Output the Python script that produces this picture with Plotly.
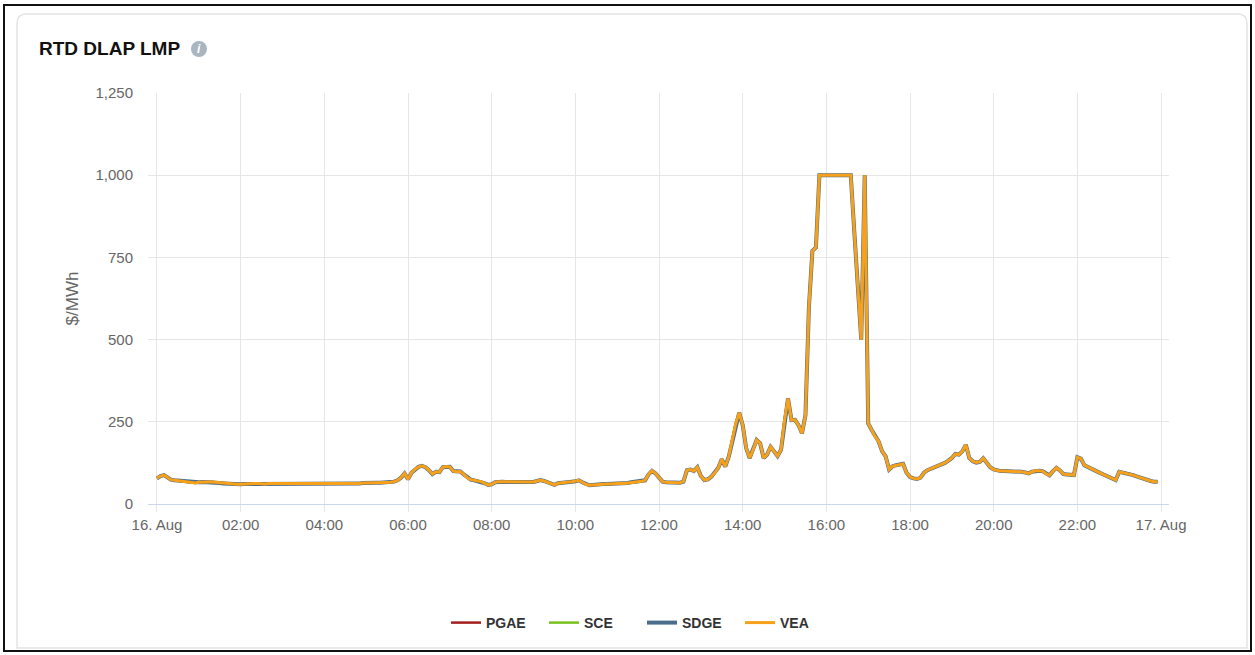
import pandas as pd
import plotly.graph_objects as go

# ---- data (5-minute RTD prices, $/MWh) ----
start_time = "2020-08-16 00:00"
hour_00 = [78, 85, 88, 80, 74, 72, 71, 70, 69, 68, 66, 64]
hour_01 = [66, 67, 67, 67, 67, 66, 64, 62, 61, 61, 61, 60]
hour_02 = [60, 61, 61, 62, 62, 62, 61, 61, 62, 62, 61, 61]
hour_03 = [61, 61, 61, 60, 61, 61, 61, 61, 60, 61, 61, 61]
hour_04 = [61, 61, 61, 61, 61, 62, 62, 61, 61, 62, 62, 64]
hour_05 = [65, 65, 65, 65, 65, 66, 66, 66, 68, 72, 80, 93]
hour_06 = [75, 95, 105, 113, 116, 112, 103, 91, 98, 97, 112, 114]
hour_07 = [113, 100, 98, 99, 90, 80, 74, 72, 70, 68, 63, 58]
hour_08 = [60, 66, 68, 68, 67, 67, 66, 66, 66, 67, 66, 67]
hour_09 = [67, 70, 73, 70, 66, 61, 58, 63, 65, 66, 67, 68]
hour_10 = [69, 72, 66, 60, 57, 58, 60, 60, 61, 61, 61, 62]
hour_11 = [64, 63, 62, 64, 66, 67, 68, 69, 72, 90, 101, 93]
hour_12 = [80, 68, 66, 65, 64, 65, 65, 68, 103, 105, 100, 112]
hour_13 = [85, 73, 75, 83, 95, 110, 136, 114, 144, 190, 245, 278]
hour_14 = [240, 170, 140, 165, 195, 185, 140, 150, 174, 160, 146, 165]
hour_15 = [256, 321, 255, 256, 240, 215, 270, 600, 770, 780, 1000, 1000]
hour_16 = [1000, 1000, 1000, 1000, 1000, 1000, 1000, 1000, 830, 670, 500, 1000]
hour_17 = [245, 225, 205, 190, 160, 145, 105, 115, 118, 120, 122, 95]
hour_18 = [82, 78, 76, 80, 95, 103, 107, 112, 116, 120, 125, 132]
hour_19 = [140, 152, 150, 160, 180, 140, 130, 126, 128, 139, 125, 112]
hour_20 = [105, 102, 100, 100, 100, 100, 100, 99, 98, 96, 93, 98]
hour_21 = [101, 101, 100, 92, 87, 100, 110, 102, 91, 90, 89, 88]
hour_22 = [142, 138, 118, 112, 108, 102, 97, 92, 87, 82, 76, 73]
hour_23 = [98, 96, 93, 90, 88, 84, 80, 76, 72, 70, 68, 68]

price_rows = [hour_00, hour_01, hour_02, hour_03, hour_04, hour_05, hour_06, hour_07,
              hour_08, hour_09, hour_10, hour_11, hour_12, hour_13, hour_14, hour_15,
              hour_16, hour_17, hour_18, hour_19, hour_20, hour_21, hour_22, hour_23]
prices = [v for row in price_rows for v in row]
times = pd.date_range(start_time, periods=len(prices), freq="5min")

series_names = ["PGAE", "SCE", "SDGE", "VEA"]
series_colors = ["#a31f1c", "#78c11d", "#4b6d8c", "#f7a11a"]
series_widths = [2.5, 2.5, 4.0, 3.0]

tick_vals = pd.date_range("2020-08-16 00:00", "2020-08-17 00:00", freq="2h")
tick_text = ["16. Aug", "02:00", "04:00", "06:00", "08:00", "10:00", "12:00",
             "14:00", "16:00", "18:00", "20:00", "22:00", "17. Aug"]
y_ticks = [0, 250, 500, 750, 1000, 1250]

# ---- figure ----
W, H = 1255, 655
L, R, T, B = 148, 1169, 93, 504  # plot area in pixels


def px(x):
    return (x - L) / (R - L)


def py(y):
    return (B - y) / (B - T)


fig = go.Figure()
for name, color, width in zip(series_names, series_colors, series_widths):
    fig.add_trace(go.Scatter(x=times, y=prices, mode="lines", name=name,
                             line=dict(color=color, width=width)))

x0 = pd.Timestamp("2020-08-16 00:00") - pd.Timedelta(hours=0.215)
x1 = pd.Timestamp("2020-08-17 00:00") + pd.Timedelta(hours=0.19)

font_family = "Liberation Sans, Arial, sans-serif"

fig.update_layout(
    width=W, height=H,
    margin=dict(l=L, r=W - R, t=T, b=H - B, autoexpand=False),
    paper_bgcolor="white", plot_bgcolor="white",
    font=dict(family=font_family, color="#666666"),
    showlegend=True,
    legend=dict(orientation="h", x=px(446), y=py(623), xanchor="left", yanchor="middle",
                font=dict(size=14, color="#333333", family=font_family, weight="bold"),
                itemwidth=30, entrywidth=53, entrywidthmode="pixels", traceorder="normal"),
    xaxis=dict(type="date", range=[x0, x1], tickvals=tick_vals, ticktext=tick_text,
               showgrid=True, gridcolor="#e6e6e6", gridwidth=1,
               showline=True, linecolor="#ccd6eb", linewidth=1,
               ticks="outside", ticklen=7, tickcolor="#e6e6e6",
               tickfont=dict(size=15, color="#666666"), zeroline=False, fixedrange=True),
    yaxis=dict(range=[0, 1250], tickvals=y_ticks, tickformat=",",
               showgrid=True, gridcolor="#e6e6e6", gridwidth=1, zeroline=False,
               showline=False, ticks="", ticklabelstandoff=14,
               tickfont=dict(size=15, color="#666666"),
               title=dict(text="$/MWh", font=dict(size=17, color="#666666"), standoff=12)),
    shapes=[
        # outer black frame
        dict(type="rect", xref="paper", yref="paper", x0=px(4), x1=px(1251), y0=py(5), y1=py(651),
             line=dict(color="#111111", width=2), fillcolor="rgba(0,0,0,0)", layer="below"),
        # inner rounded card
        dict(type="path", xref="paper", yref="paper", layer="below",
             path=(f"M {px(26)},{py(14)} L {px(1238)},{py(14)} Q {px(1247)},{py(14)} {px(1247)},{py(24)} "
                   f"L {px(1247)},{py(648)} L {px(17)},{py(648)} L {px(17)},{py(24)} "
                   f"Q {px(17)},{py(14)} {px(26)},{py(14)} Z"),
             line=dict(color="#e3e3e3", width=1.5), fillcolor="rgba(0,0,0,0)"),
        # info icon circle
        dict(type="circle", xref="paper", yref="paper", x0=px(191), x1=px(207), y0=py(57), y1=py(41),
             line=dict(width=0), fillcolor="#a9b5c1"),
    ],
    annotations=[
        dict(text="<b>RTD DLAP LMP</b>", xref="paper", yref="paper", x=px(37), y=py(48),
             xanchor="left", yanchor="middle", showarrow=False,
             font=dict(size=19, color="#111111", family=font_family)),
        dict(text="<b><i>i</i></b>", xref="paper", yref="paper", x=px(199), y=py(49),
             xanchor="center", yanchor="middle", showarrow=False,
             font=dict(size=12, color="white", family=font_family)),
    ],
)

fig.write_html("out.html", config={"displayModeBar": False},
               post_script="document.body.style.margin='0';")
